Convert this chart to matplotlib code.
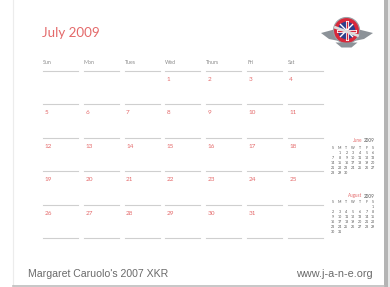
import matplotlib
matplotlib.use("Agg")
import matplotlib.pyplot as plt
from matplotlib.patches import Rectangle, Circle, Polygon

# ---- data ----
month_title = "July 2009"
weekdays = ["Sun", "Mon", "Tues", "Wed", "Thurs", "Fri", "Sat"]
july_first_weekday = 3   # Wednesday
july_days = 31
june_first_weekday = 1   # Monday
june_days = 30
aug_first_weekday = 6    # Saturday
aug_days = 31
mini_header = ["S", "M", "T", "W", "T", "F", "S"]
footer_left = "Margaret Caruolo's 2007 XKR"
footer_right = "www.j-a-n-e.org"

RED = "#e4696a"
GRAY_LINE = "#cfcfcf"
GRAY_TEXT = "#8a8a8a"
FONT = "Lato"

fig = plt.figure(figsize=(3.9, 2.87), dpi=100)
ax = fig.add_axes([0, 0, 1, 1])
ax.set_xlim(0, 390)
ax.set_ylim(287, 0)
ax.axis("off")
fig.patch.set_facecolor("white")

# page border / shadow
ax.add_patch(Rectangle((384, -5), 6, 300, color="#b4b4b4", lw=0))
ax.add_patch(Rectangle((388, -5), 2, 300, color="#e6e6e6", lw=0))
ax.plot([13, 13], [-5, 285], color="#ececec", lw=0.8)
ax.plot([13, 384], [285.5, 285.5], color="#bdbdbd", lw=1.2)

# title
ax.text(42.5, 33, month_title, color=RED, fontsize=9.6, family=FONT,
        va="center", ha="left")

# logo
wing_l = Polygon([[321, 33], [336, 29], [339, 41], [329, 39]], closed=True,
                 fc="#8c9298", ec="none")
wing_r = Polygon([[373, 33], [357, 29], [354, 41], [364, 39]], closed=True,
                 fc="#8c9298", ec="none")
ax.add_patch(wing_l)
ax.add_patch(wing_r)
cx, cy = 346.5, 30.5
ax.add_patch(Circle((cx, cy), 13, fc="#d8283a", ec="#9aa0a6", lw=0.8))
ax.add_patch(Circle((cx, cy), 8.8, fc="#2b3f8c", ec="none"))
ax.plot([cx - 8.5, cx + 8.5], [cy, cy], color="white", lw=2.2)
ax.plot([cx, cx], [cy - 8.5, cy + 8.5], color="white", lw=2.2)
ax.plot([cx - 8.5, cx + 8.5], [cy, cy], color="#d8283a", lw=1.0)
ax.plot([cx, cx], [cy - 8.5, cy + 8.5], color="#d8283a", lw=1.0)
ax.plot([cx - 6, cx + 6], [cy - 6, cy + 6], color="white", lw=1.0)
ax.plot([cx - 6, cx + 6], [cy + 6, cy - 6], color="white", lw=1.0)
ax.plot([cx - 11, cx + 11], [cy - 3, cy + 5], color="#dcdcdc", lw=2.0)
ax.add_patch(Polygon([[cx - 11, cy + 12], [cx + 11, cy + 12], [cx + 5, cy + 17], [cx - 5, cy + 17]],
                     fc="#8c9298", ec="none"))

# grid
col_x0 = 43.0
col_w = 40.8
line_len = 35.0
row_y0 = 71.0
row_h = 33.4

for i, name in enumerate(weekdays):
    ax.text(col_x0 + i * col_w, 62, name, color=GRAY_TEXT, fontsize=3.8,
            family=FONT, va="center", ha="left")

n_rows = 5
for r in range(n_rows + 1):
    y = row_y0 + r * row_h
    for i in range(7):
        x = col_x0 + i * col_w
        ax.plot([x, x + line_len], [y, y], color=GRAY_LINE, lw=0.8)

for d in range(1, july_days + 1):
    idx = july_first_weekday + d - 1
    r, c = divmod(idx, 7)
    ax.text(col_x0 + 1.5 + c * col_w, row_y0 + 8.5 + r * row_h, str(d),
            color=RED, fontsize=4.6, family=FONT, va="center", ha="left")


def mini_cal(month_name, first_wd, ndays, y_title, y_head, y_rows):
    x0 = 333.0
    dx = 6.7
    ax.text(362.5, y_title, month_name, color=RED, fontsize=3.3, family=FONT,
            va="center", ha="right")
    ax.text(363.5, y_title, "2009", color="#555555", fontsize=3.3, family=FONT,
            va="center", ha="left")
    for i, h in enumerate(mini_header):
        ax.text(x0 + i * dx, y_head, h, color="#555555", fontsize=2.6,
                family=FONT, va="center", ha="center")
    for d in range(1, ndays + 1):
        idx = first_wd + d - 1
        r, c = divmod(idx, 7)
        ax.text(x0 + c * dx, y_rows[r], str(d), color="#555555", fontsize=2.6,
                family=FONT, va="center", ha="center")


mini_cal("June", june_first_weekday, june_days, 141, 148,
         [153, 158, 163, 168, 173])
mini_cal("August", aug_first_weekday, aug_days, 196, 202,
         [207, 212, 217, 222, 227, 232])

# footer
ax.text(28, 274, footer_left, color="#6a6a6a", fontsize=7.6,
        family="Liberation Sans", va="center", ha="left")
ax.text(373, 274, footer_right, color="#6a6a6a", fontsize=7.8,
        family="Liberation Sans", va="center", ha="right")

fig.savefig("out.png", dpi=100, facecolor="white")
